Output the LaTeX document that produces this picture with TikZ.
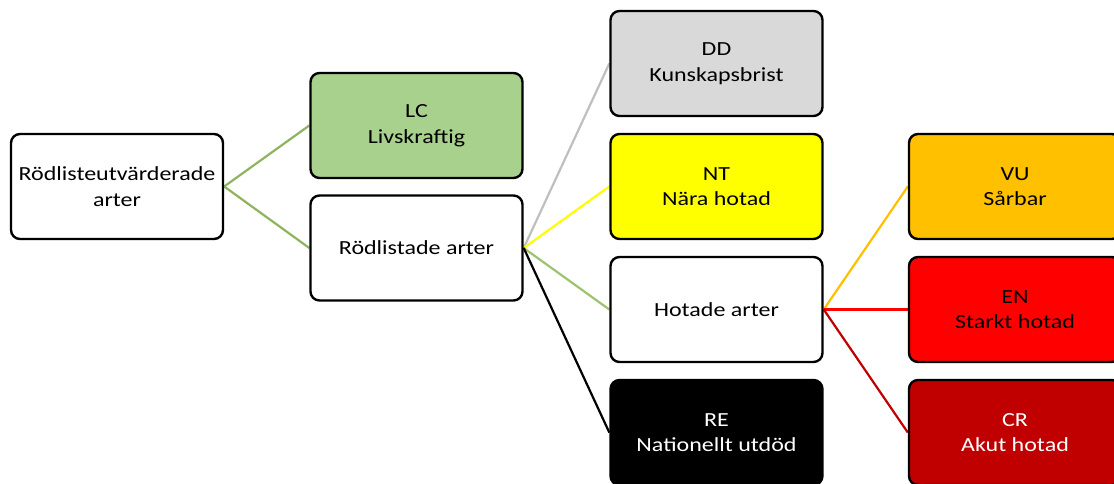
\documentclass[tikz,border=0pt]{standalone}
\usepackage{fontspec}
\setmainfont{Carlito}[FakeStretch=1.2]
\usetikzlibrary{backgrounds}
\definecolor{lcgreen}{HTML}{A9D18E}
\definecolor{ddgray}{HTML}{D9D9D9}
\definecolor{ntyellow}{HTML}{FFFF00}
\definecolor{vuorange}{HTML}{FFC000}
\definecolor{enred}{HTML}{FF0000}
\definecolor{crred}{HTML}{C00000}
\definecolor{lgreen}{HTML}{8FB35E}
\definecolor{lgreen2}{HTML}{9DC36E}
\definecolor{lgray}{HTML}{BFBFBF}
\tikzset{
  box/.style={draw=black, line width=2.4pt, rounded corners=9pt, minimum width=212pt, minimum height=105pt,
    align=center, font=\fontsize{20}{25.5}\selectfont, inner sep=2pt},
  conn/.style={line width=2.2pt}
}
\begin{document}
\begin{tikzpicture}[x=1pt,y=-1pt]
\useasboundingbox (0,0) rectangle (1114,484);
\node[box, fill=white] (root) at (117,186.5) {Rödlisteutvärderade\\arter};
\node[box, fill=lcgreen] (lc) at (416.5,125.5) {LC\\Livskraftig};
\node[box, fill=white] (rod) at (416.5,248) {Rödlistade arter};
\node[box, fill=ddgray] (dd) at (716.5,63.5) {DD\\Kunskapsbrist};
\node[box, fill=ntyellow] (nt) at (716.5,186.5) {NT\\Nära hotad};
\node[box, fill=white] (hot) at (716.5,309.5) {Hotade arter};
\node[box, fill=black, text=white] (re) at (716.5,432.5) {RE\\Nationellt utdöd};
\node[box, fill=vuorange] (vu) at (1015,186.5) {VU\\Sårbar};
\node[box, fill=enred] (en) at (1015,309.5) {EN\\Starkt hotad};
\node[box, fill=crred, text=white] (cr) at (1015,432.5) {CR\\Akut hotad};
\begin{scope}[on background layer]
\draw[conn, lgreen] (root.east) -- (lc.west);
\draw[conn, lgreen] (root.east) -- (rod.west);
\draw[conn, lgray] (rod.east) -- (dd.west);
\draw[conn, ntyellow] (rod.east) -- (nt.west);
\draw[conn, lgreen2] (rod.east) -- (hot.west);
\draw[conn, black] (rod.east) -- (re.west);
\draw[conn, vuorange] (hot.east) -- (vu.west);
\draw[conn, enred] (hot.east) -- (en.west);
\draw[conn, crred] (hot.east) -- (cr.west);
\end{scope}
\end{tikzpicture}
\end{document}
